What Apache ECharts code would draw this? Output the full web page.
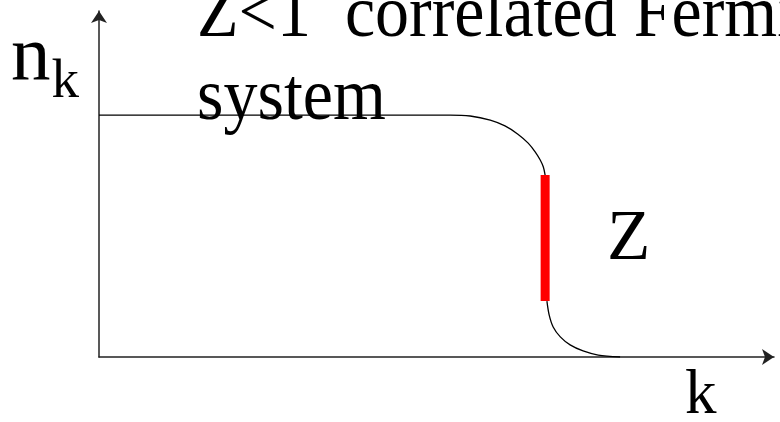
<!DOCTYPE html>
<html>
<head>
<meta charset="utf-8">
<script src="https://cdn.jsdelivr.net/npm/echarts@6/dist/echarts.min.js"></script>
<style>
	html, body { margin: 0; padding: 0; background: #fff; }
	#main { width: 780px; height: 422px; }
</style>
</head>
<body>
<div id="main"></div>
<script>
// 数据 (k 以 kF 为单位, n 以平台高度为单位)
var kUpper = [0, 0.787, 0.832, 0.877, 0.91, 0.939, 0.962, 0.978, 0.989, 0.996, 1.0];
var nUpper = [1, 1, 0.996, 0.979, 0.955, 0.921, 0.884, 0.847, 0.814, 0.785, 0.752];
var kLower = [1.004, 1.009, 1.018, 1.034, 1.056, 1.085, 1.119, 1.168];
var nLower = [0.231, 0.174, 0.124, 0.083, 0.05, 0.025, 0.008, 0];
var kBar = [1.0, 1.0];
var nBar = [0.752, 0.231];
var titleLines = ['Z<1  correlated Fermi', 'system'];

function pairs(xs, ys) {
	var out = [];
	for (var i = 0; i < xs.length; i++) {
		out.push([xs[i], ys[i]]);
	}
	return out;
}

var serif = 'Liberation Serif, Times New Roman, serif';
function label(text, x, y, size, sy) {
	return {
		type: 'text',
		x: x,
		y: y,
		scaleY: sy || 1,
		style: {
			text: text,
			font: size + 'px ' + serif,
			fill: '#000',
			verticalAlign: 'middle'
		}
	};
}

var myChart = echarts.init(document.getElementById('main'));
var option = {
	animation: false,
	backgroundColor: '#fff',
	grid: { left: 99, right: 6, top: 11, bottom: 65 },
	xAxis: {
		type: 'value',
		min: 0,
		max: 1.513,
		splitLine: { show: false },
		axisTick: { show: false },
		axisLabel: { show: false },
		axisLine: {
			onZero: false,
			symbol: ['none', 'arrow'],
			symbolSize: [12, 12],
			lineStyle: { color: '#222', width: 1.5 }
		}
	},
	yAxis: {
		type: 'value',
		min: 0,
		max: 1.43,
		splitLine: { show: false },
		axisTick: { show: false },
		axisLabel: { show: false },
		axisLine: {
			show: true,
			onZero: false,
			symbol: ['none', 'arrow'],
			symbolSize: [12, 12],
			lineStyle: { color: '#222', width: 1.5 }
		}
	},
	series: [{
		name: 'upper',
		type: 'line',
		data: pairs(kUpper, nUpper),
		smooth: 0.3,
		showSymbol: false,
		lineStyle: { color: '#000', width: 1.3 }
	}, {
		name: 'lower',
		type: 'line',
		data: pairs(kLower, nLower),
		smooth: 0.3,
		showSymbol: false,
		lineStyle: { color: '#000', width: 1.3 }
	}, {
		name: 'Z',
		type: 'line',
		data: pairs(kBar, nBar),
		showSymbol: false,
		z: 5,
		lineStyle: { color: '#ff0000', width: 9, cap: 'butt' }
	}],
	graphic: [
		label(titleLines[0], 197, 16, 68, 1.1),
		label(titleLines[1], 197, 99, 68, 1.1),
		label('n', 11, 59, 79),
		label('k', 51.5, 83, 55),
		label('Z', 607, 240, 71),
		label('k', 685, 396, 63)
	]
};
myChart.setOption(option);
</script>
</body>
</html>
